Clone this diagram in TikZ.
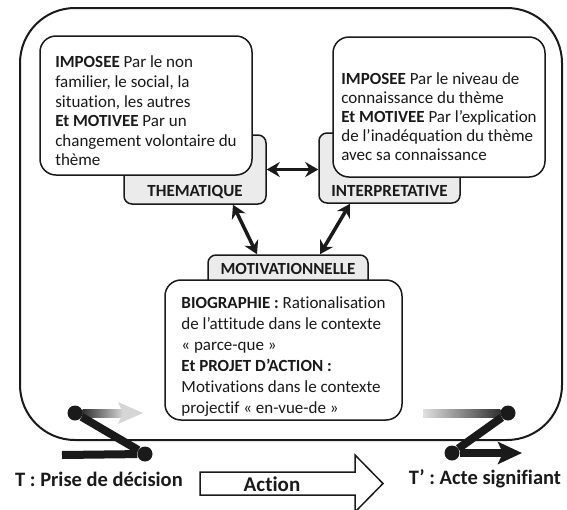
\documentclass[tikz,border=0pt]{standalone}
\usepackage{fontspec}
\setmainfont{Carlito}[Ligatures=NoCommon]
\usepackage{tikz}
\usetikzlibrary{arrows.meta,positioning,calc}
\definecolor{ink}{HTML}{1A1A1A}
\definecolor{tabfill}{HTML}{EBEBEB}
\definecolor{fadegray}{HTML}{D6D6D6}

\begin{document}
\begin{tikzpicture}[
  x=1pt,y=-1pt,
  every node/.style={text=ink},
  frame/.style={draw=ink,line width=2pt,rounded corners=55pt},
  textbox/.style={draw=ink,fill=white,line width=1.5pt,rounded corners=16pt,align=left,inner sep=0pt},
  tabbox/.style={draw=ink,fill=tabfill,line width=1.5pt,rounded corners=8pt,inner sep=0pt,anchor=base,font=\bfseries\fontsize{17}{19}\selectfont},
  link/.style={draw=ink,line width=3.5pt,{Stealth[length=13pt,width=15pt]}-{Stealth[length=13pt,width=15pt]}},
  dot/.style={circle,fill=ink,minimum size=15pt,inner sep=0pt},
  bar/.style={draw=ink,line width=8pt},
  caption/.style={font=\bfseries\fontsize{20.5}{24}\selectfont}
]
\useasboundingbox (0,0) rectangle (567,509);
\draw[frame] (20,8) rectangle (562,440);

\node[tabbox,minimum width=142pt,text height=61pt,text depth=8pt] (themtab) at (195,196) {THEMATIQUE};
\node[tabbox,minimum width=141pt,text height=63pt,text depth=7pt] (interptab) at (389.5,196) {INTERPRETATIVE};
\node[tabbox,minimum width=160pt,text height=19pt,text depth=16pt] (mottab) at (288,274) {MOTIVATIONNELLE};

\node[textbox,minimum width=212pt,minimum height=139pt,font=\fontsize{17}{19.6}\selectfont] (thembox) at (146,105.5)
  {\rule{0pt}{23pt}\textbf{IMPOSEE} Par le non\\familier, le social, la\\situation, les autres\\\textbf{Et MOTIVEE} Par un\\changement volontaire du\\thème};
\node[textbox,minimum width=212pt,minimum height=140pt,font=\fontsize{17}{19}\selectfont] (interpbox) at (439,107)
  {\rule{0pt}{31pt}\textbf{IMPOSEE} Par le niveau de\\connaissance du thème\\\textbf{Et MOTIVEE} Par l’explication\\de l’inadéquation du thème\\avec sa connaissance};
\node[textbox,minimum width=237pt,minimum height=140pt,font=\fontsize{17}{21}\selectfont] (motbox) at (283.5,350)
  {\rule{0pt}{25pt}\textbf{BIOGRAPHIE :} Rationalisation\\de l’attitude dans le contexte\\« parce-que »\\\textbf{Et PROJET D’ACTION :}\\Motivations dans le contexte\\projectif « en-vue-de »};

\draw[link] (themtab.east) -- (themtab.east -| interptab.west);
\draw[link] ([xshift=38pt]themtab.south) -- ([xshift=-31pt]mottab.north);
\draw[link] ([xshift=-39.5pt]interptab.south) -- ([xshift=32pt]mottab.north);

\node[dot] (t0) at (75,413) {};
\node[dot] (t1) at (145,454) {};
\coordinate (tg) at (143,413);
\coordinate (tb) at (62,455);
\shade[left color=ink!90,right color=fadegray] ([yshift=4pt]t0.east) rectangle ([xshift=-20pt,yshift=-4pt]tg);
\fill[fadegray] (tg) -- ++(-25,-11) -- ++(5,11) -- ++(-5,11) -- cycle;
\draw[bar] (tb) -- (t1);
\draw[bar] (t0) -- (t1);

\node[dot] (r0) at (508,413) {};
\node[dot] (r1) at (452,453) {};
\coordinate (rg) at (423,413);
\coordinate (rt) at (522,453);
\shade[left color=black!12,right color=ink!90] ([yshift=4pt]rg) rectangle ([yshift=-4pt]r0.west);
\draw[bar] (r0) -- (r1);
\draw[bar,-{Stealth[length=24pt,width=22pt,inset=5pt]}] (r1) -- (rt);

\node[caption] (tdec) at (99,479) {T : Prise de décision};
\node[caption] (tact) at (485,479) {T’ : Acte signifiant};
\node[font=\bfseries\fontsize{21}{24}\selectfont] (act) at (272,484) {Action};
\draw[draw=ink,line width=1.5pt,line join=miter] (200,472) -- (355,472) -- (355,455) -- (383,483.5) -- (355,512) -- (355,495) -- (200,495) -- cycle;
\end{tikzpicture}
\end{document}
